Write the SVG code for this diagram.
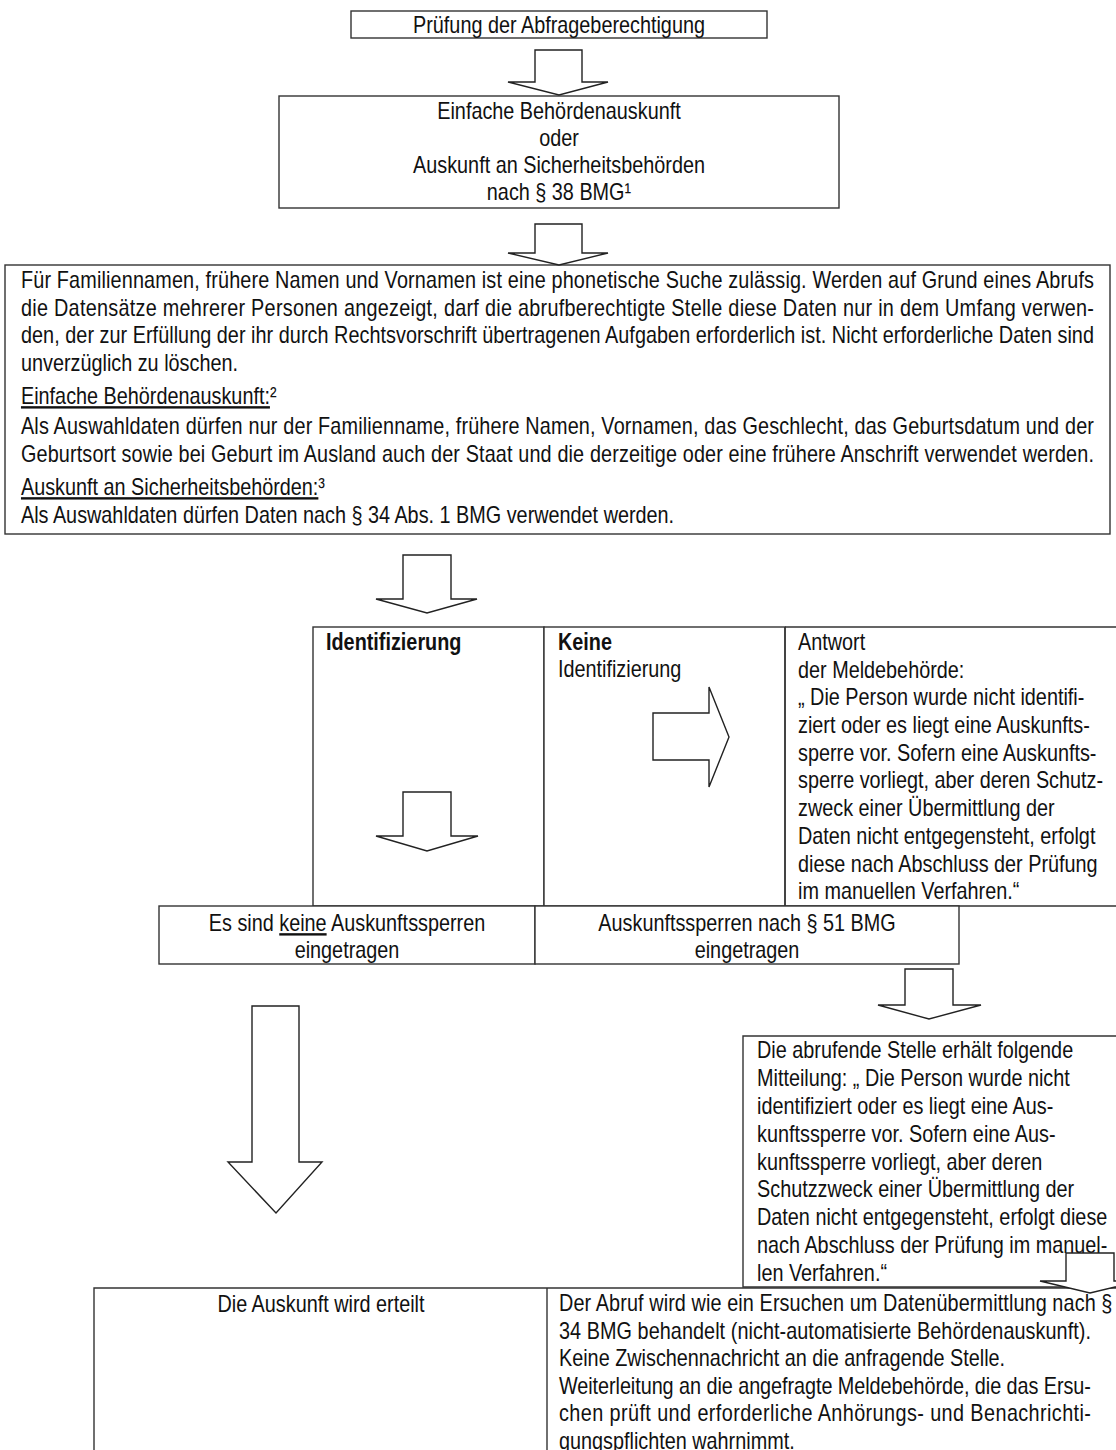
<svg xmlns="http://www.w3.org/2000/svg" width="1116" height="1450" viewBox="0 0 1116 1450">
<style>
.t{font-family:"Liberation Sans",Arial,sans-serif;font-size:24px;fill:#111}
.c{text-anchor:middle}
.b{font-weight:bold}
.u{text-decoration:underline}
.box{fill:#fff;stroke:#333;stroke-width:1.4}
.ln{fill:none;stroke:#333;stroke-width:1.4}
.arr{fill:#fff;stroke:#222;stroke-width:1.4;stroke-linejoin:miter}
</style>
<rect width="1116" height="1450" fill="#fff"/>

<g id="n1">
<rect class="box" x="351" y="11" width="416" height="27"/>
<g transform="scale(0.826,1)">
<text class="t c" x="676.75" y="33">Prüfung der Abfrageberechtigung</text>
</g>
</g>

<g id="n2">
<rect class="box" x="279" y="96" width="560" height="112"/>
<g transform="scale(0.826,1)">
<text class="t c" x="676.75" y="119">Einfache Behördenauskunft</text>
<text class="t c" x="676.75" y="146">oder</text>
<text class="t c" x="676.75" y="173">Auskunft an Sicherheitsbehörden</text>
<text class="t c" x="676.75" y="200">nach § 38 BMG¹</text>
</g>
</g>

<g id="n3">
<rect class="box" x="5" y="265" width="1105" height="269"/>
<g transform="scale(0.826,1)">
<text class="t" x="25.4" y="288" textLength="1299" lengthAdjust="spacing">Für Familiennamen, frühere Namen und Vornamen ist eine phonetische Suche zulässig. Werden auf Grund eines Abrufs</text>
<text class="t" x="25.4" y="315.6" textLength="1299" lengthAdjust="spacing">die Datensätze mehrerer Personen angezeigt, darf die abrufberechtigte Stelle diese Daten nur in dem Umfang verwen-</text>
<text class="t" x="25.4" y="343.2" textLength="1299" lengthAdjust="spacing">den, der zur Erfüllung der ihr durch Rechtsvorschrift übertragenen Aufgaben erforderlich ist. Nicht erforderliche Daten sind</text>
<text class="t" x="25.4" y="370.8">unverzüglich zu löschen.</text>
<text class="t" x="25.4" y="404"><tspan class="u">Einfache Behördenauskunft:</tspan>²</text>
<text class="t" x="25.4" y="434" textLength="1299" lengthAdjust="spacing">Als Auswahldaten dürfen nur der Familienname, frühere Namen, Vornamen, das Geschlecht, das Geburtsdatum und der</text>
<text class="t" x="25.4" y="461.6" textLength="1299" lengthAdjust="spacing">Geburtsort sowie bei Geburt im Ausland auch der Staat und die derzeitige oder eine frühere Anschrift verwendet werden.</text>
<text class="t" x="25.4" y="495"><tspan class="u">Auskunft an Sicherheitsbehörden:</tspan>³</text>
<text class="t" x="25.4" y="523">Als Auswahldaten dürfen Daten nach § 34 Abs. 1 BMG verwendet werden.</text>
</g>
</g>

<g id="n4">
<rect class="box" x="313" y="627" width="231" height="279"/>
<g transform="scale(0.826,1)">
<text class="t b" x="394.7" y="650">Identifizierung</text>
</g>
</g>

<g id="n5">
<rect class="box" x="544" y="627" width="241" height="279"/>
<g transform="scale(0.826,1)">
<text class="t b" x="675.5" y="650">Keine</text>
<text class="t" x="675.5" y="677">Identifizierung</text>
</g>
</g>

<g id="n6">
<path class="ln" d="M785 627 H1116 M785 627 V906 H1116"/>
<g transform="scale(0.826,1)">
<text class="t" x="966.1" y="650">Antwort</text>
<text class="t" x="966.1" y="677.7">der Meldebehörde:</text>
<text class="t" x="966.1" y="705.4">„ Die Person wurde nicht identifi-</text>
<text class="t" x="966.1" y="733.1">ziert oder es liegt eine Auskunfts-</text>
<text class="t" x="966.1" y="760.8">sperre vor. Sofern eine Auskunfts-</text>
<text class="t" x="966.1" y="788.5">sperre vorliegt, aber deren Schutz-</text>
<text class="t" x="966.1" y="816.2">zweck einer Übermittlung der</text>
<text class="t" x="966.1" y="843.9">Daten nicht entgegensteht, erfolgt</text>
<text class="t" x="966.1" y="871.6">diese nach Abschluss der Prüfung</text>
<text class="t" x="966.1" y="899.3">im manuellen Verfahren.“</text>
</g>
</g>

<g id="n7">
<rect class="box" x="159" y="906" width="376" height="58"/>
<g transform="scale(0.826,1)">
<text class="t c" x="420.1" y="931">Es sind <tspan class="u">keine</tspan> Auskunftssperren</text>
<text class="t c" x="420.1" y="958">eingetragen</text>
</g>
</g>

<g id="n8">
<rect class="box" x="535" y="906" width="424" height="58"/>
<g transform="scale(0.826,1)">
<text class="t c" x="904.4" y="931">Auskunftssperren nach § 51 BMG</text>
<text class="t c" x="904.4" y="958">eingetragen</text>
</g>
</g>

<g id="n9">
<path class="box" d="M1116 1036 H743 V1287 H1116"/>
<g transform="scale(0.826,1)">
<text class="t" x="916.5" y="1058">Die abrufende Stelle erhält folgende</text>
<text class="t" x="916.5" y="1085.9">Mitteilung: „ Die Person wurde nicht</text>
<text class="t" x="916.5" y="1113.8">identifiziert oder es liegt eine Aus-</text>
<text class="t" x="916.5" y="1141.7">kunftssperre vor. Sofern eine Aus-</text>
<text class="t" x="916.5" y="1169.6">kunftssperre vorliegt, aber deren</text>
<text class="t" x="916.5" y="1197.5">Schutzzweck einer Übermittlung der</text>
<text class="t" x="916.5" y="1225.4">Daten nicht entgegensteht, erfolgt diese</text>
<text class="t" x="916.5" y="1253.3">nach Abschluss der Prüfung im manuel-</text>
<text class="t" x="916.5" y="1281.2">len Verfahren.“</text>
</g>
</g>

<g id="n10">
<path class="ln" d="M1116 1288 H94 V1450"/>
<g transform="scale(0.826,1)">
<text class="t c" x="388.6" y="1312">Die Auskunft wird erteilt</text>
</g>
</g>

<g id="n11">
<path class="ln" d="M547 1288 V1450"/>
<g transform="scale(0.826,1)">
<text class="t" x="676.75" y="1311" textLength="670" lengthAdjust="spacing">Der Abruf wird wie ein Ersuchen um Datenübermittlung nach §</text>
<text class="t" x="676.75" y="1338.6" textLength="644" lengthAdjust="spacing">34 BMG behandelt (nicht-automatisierte Behördenauskunft).</text>
<text class="t" x="676.75" y="1366.2">Keine Zwischennachricht an die anfragende Stelle.</text>
<text class="t" x="676.75" y="1393.8" textLength="644" lengthAdjust="spacing">Weiterleitung an die angefragte Meldebehörde, die das Ersu-</text>
<text class="t" x="676.75" y="1421.4" textLength="644" lengthAdjust="spacing">chen prüft und erforderliche Anhörungs- und Benachrichti-</text>
<text class="t" x="676.75" y="1449">gungspflichten wahrnimmt.</text>
</g>
</g>

<g id="connectors">
<polygon class="arr" points="535,50 582,50 582,82 608,82 559,95 508,82 535,82"/>
<polygon class="arr" points="535,224 582,224 582,253 608,253 559,265 508,253 535,253"/>
<polygon class="arr" points="403,555 451,555 451,599 477,599 427,613 376,599 403,599"/>
<polygon class="arr" points="403,792 451,792 451,836 478,836 427,851 376,836 403,836"/>
<polygon class="arr" points="653,713 709,713 709,687 729,737 709,787 709,760 653,760"/>
<polygon class="arr" points="905,969 953,969 953,1005 981,1005 929,1019 878,1005 905,1005"/>
<polygon class="arr" points="252,1006 299,1006 299,1162 322,1162 276,1213 228,1162 252,1162"/>
<polygon class="arr" points="1066,1253 1114,1253 1114,1281 1140,1281 1090,1293 1040,1281 1066,1281"/>
</g>
</svg>
